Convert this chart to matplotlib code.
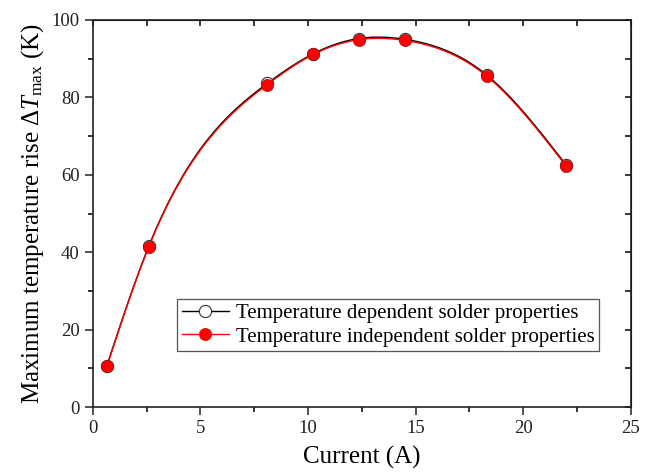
import numpy as np
import matplotlib
matplotlib.use("Agg")
import matplotlib.pyplot as plt
from matplotlib.ticker import MultipleLocator

plt.rcParams['font.family'] = ['Liberation Serif', 'DejaVu Serif']
plt.rcParams['mathtext.fontset'] = 'custom'
plt.rcParams['mathtext.rm'] = 'Liberation Serif'
plt.rcParams['mathtext.it'] = 'Liberation Serif:italic'

# data
current = [0.65, 2.6, 8.1, 10.25, 12.35, 14.5, 18.3, 22.0]
dep = [10.7, 41.6, 83.6, 91.3, 95.2, 95.0, 85.8, 62.5]
indep = [10.5, 41.4, 83.3, 91.1, 94.9, 94.7, 85.5, 62.2]

labels = ['Temperature dependent solder properties',
          'Temperature independent solder properties']


def spline(x, y, n=300):
    # natural cubic spline through the points (Origin style "spline" line)
    x = np.asarray(x, float)
    y = np.asarray(y, float)
    k = len(x)
    h = np.diff(x)
    A = np.zeros((k, k))
    b = np.zeros(k)
    A[0, 0] = A[-1, -1] = 1
    for i in range(1, k - 1):
        A[i, i - 1] = h[i - 1]
        A[i, i] = 2 * (h[i - 1] + h[i])
        A[i, i + 1] = h[i]
        b[i] = 6 * ((y[i + 1] - y[i]) / h[i] - (y[i] - y[i - 1]) / h[i - 1])
    M = np.linalg.solve(A, b)
    xs = np.linspace(x[0], x[-1], n)
    j = np.clip(np.searchsorted(x, xs) - 1, 0, k - 2)
    t0 = xs - x[j]
    t1 = x[j + 1] - xs
    hj = h[j]
    ys = (M[j] * t1 ** 3 + M[j + 1] * t0 ** 3) / (6 * hj) \
        + (y[j] / hj - M[j] * hj / 6) * t1 + (y[j + 1] / hj - M[j + 1] * hj / 6) * t0
    return xs, ys


fig = plt.figure(figsize=(6.45, 4.75), dpi=100)
ax = fig.add_axes([0.144, 0.143, 0.834, 0.815])

ms = 8.8
sx, sy = spline(current, dep)
ax.plot(sx, sy, color='black', lw=1.0)
ax.plot(current, dep, 'o', ms=ms, mfc='white', mec='#333333', mew=0.8)
sx, sy = spline(current, indep)
ax.plot(sx, sy, color='red', lw=1.0)
ax.plot(current, indep, 'o', ms=ms, mfc='red', mec='#9a1818', mew=0.5)

# legend proxies
h1, = ax.plot([], [], '-o', color='black', lw=1.0, ms=ms, mfc='white', mec='#333333', mew=0.8)
h2, = ax.plot([], [], '-o', color='red', lw=1.0, ms=ms, mfc='red', mec='red', mew=0.5)
leg = ax.legend([h1, h2], labels, loc='lower left', bbox_to_anchor=(0.157, 0.145),
                fontsize=15, frameon=True, fancybox=False,
                handlelength=2.3, handletextpad=0.3, borderpad=0.2,
                labelspacing=0.2, borderaxespad=0)
frame = leg.get_frame()
frame.set_linewidth(0.9)
frame.set_edgecolor('#555555')
frame.set_facecolor('white')
frame.set_alpha(1)

ax.set_xlim(0, 25)
ax.set_ylim(0, 100)
ax.xaxis.set_major_locator(MultipleLocator(5))
ax.xaxis.set_minor_locator(MultipleLocator(2.5))
ax.yaxis.set_major_locator(MultipleLocator(20))
ax.yaxis.set_minor_locator(MultipleLocator(10))
ax.tick_params(which='major', direction='out', length=6, width=1.1, labelsize=13.5, colors='#222222')
ax.tick_params(which='minor', direction='out', length=3.5, width=1.1)

for s in ax.spines.values():
    s.set_linewidth(1.2)
    s.set_color('#222222')

top = ax.secondary_xaxis('top')
top.xaxis.set_major_locator(MultipleLocator(2.5))
top.tick_params(direction='in', length=4, width=1.1, labeltop=False)
right = ax.secondary_yaxis('right')
right.yaxis.set_major_locator(MultipleLocator(10))
right.tick_params(direction='in', length=4, width=1.1, labelright=False)

ax.set_xlabel('Current (A)', fontsize=18, labelpad=6)
ax.set_ylabel(r'Maximum temperature rise $\Delta T_{\rm max}$ (K)', fontsize=18, labelpad=4)

fig.savefig('out.png', dpi=100)
